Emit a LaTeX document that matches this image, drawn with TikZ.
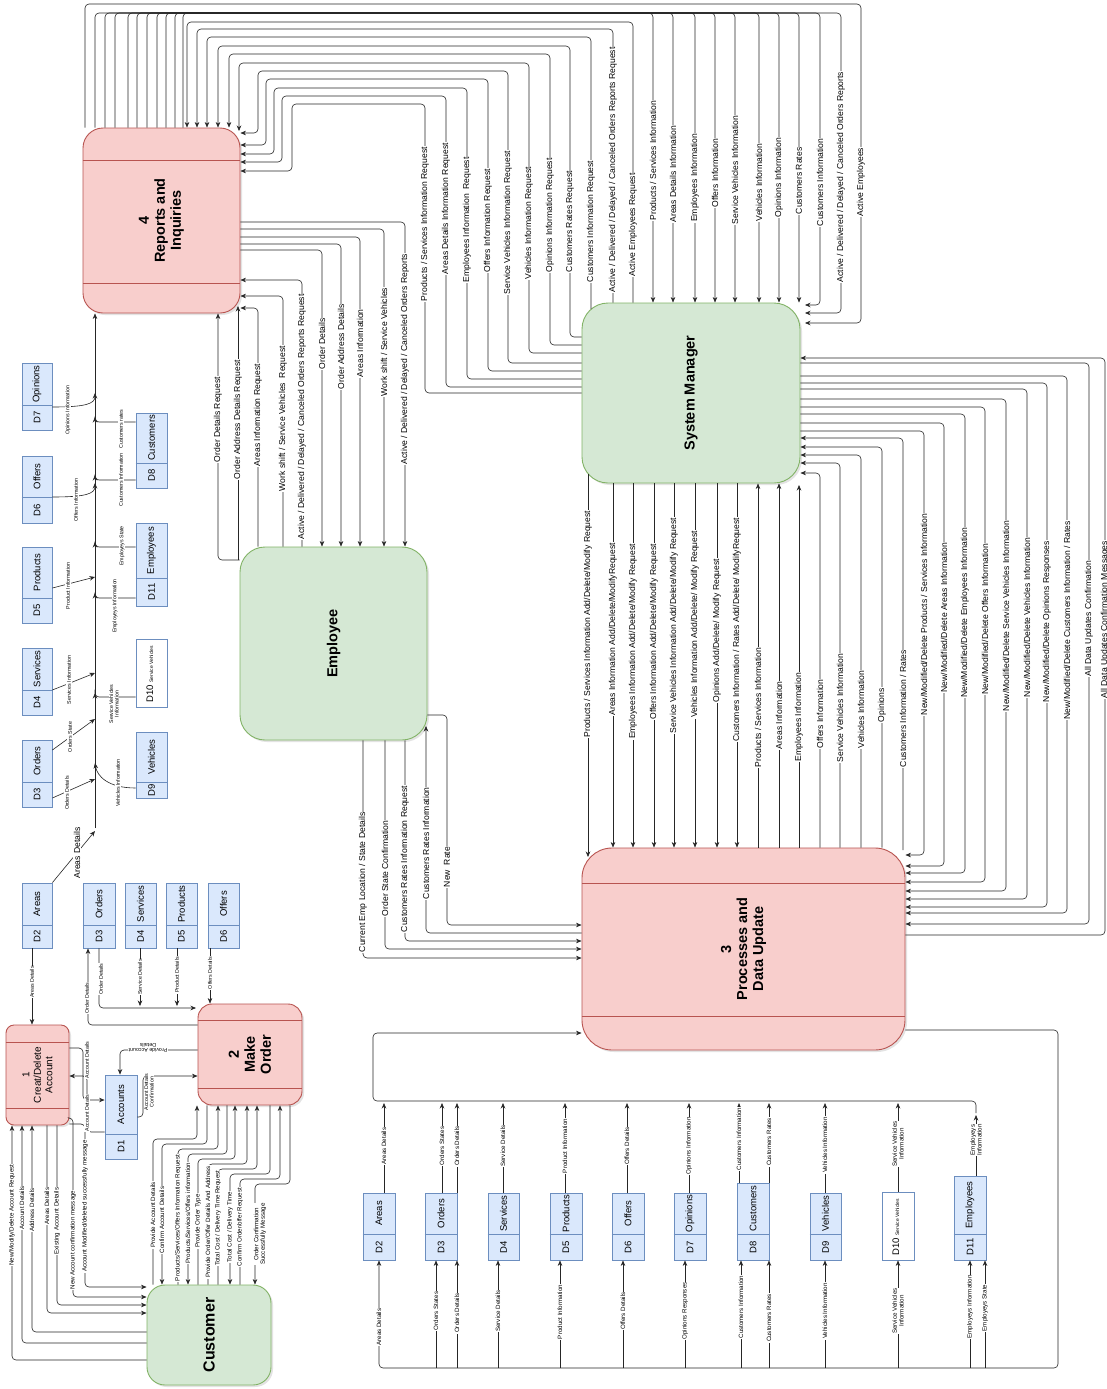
\documentclass[tikz,border=0pt]{standalone}
\usepackage{fontspec}
\setmainfont{Liberation Sans}
\usetikzlibrary{arrows.meta,fit,shadows}
\definecolor{pkF}{HTML}{F8CECC}\definecolor{pkD}{HTML}{B85450}
\definecolor{grF}{HTML}{D5E8D4}\definecolor{grD}{HTML}{82B366}
\definecolor{blF}{HTML}{DAE8FC}\definecolor{blD}{HTML}{6C8EBF}
\newcounter{lc}
\newcommand\lbl[3][]{\stepcounter{lc}\node[lab,#1] (lab\arabic{lc}) at (#2) {#3};}
\newcommand\pbox[6]{\node[#6,inner sep=0pt,fit={(#2,#3) (#4,#5)}] (#1) {};}
\newcommand\dstore[8]{\node[store,inner sep=0pt,fit={(#2,#3) (#4,#5)}] (#1) {};
  \draw[blD,line width=0.6pt] (#1.west |- 0,#6) -- (#1.east |- 0,#6);
  \node[stxt] (#1-i) at ({(#2+#4)/2},{(#6+#5)/2}) {#7};
  \node[stxt] (#1-n) at ({(#2+#4)/2},{(#3+#6)/2}) {#8};}
\begin{document}
\begin{tikzpicture}[x=1pt,y=-1pt,
  lab/.style={rotate=90,anchor=west,fill=white,inner sep=0.7pt,font=\fontsize{8.6}{9}\selectfont},
  slab/.style={anchor=center,font=\fontsize{6.2}{6.6}\selectfont},
  tlab/.style={anchor=center,font=\fontsize{5.3}{5.7}\selectfont},
  arr/.style={draw=black!85,line width=0.6pt,-{Stealth[length=5.5pt,width=4.5pt]},rounded corners=4pt},
  shd/.style={drop shadow={opacity=0.22,shadow xshift=2pt,shadow yshift=-2pt}},
  proc/.style={draw=pkD,fill=pkF,line width=0.9pt,shd},
  ent/.style={draw=grD,fill=grF,line width=0.9pt,shd},
  store/.style={draw=blD,fill=blF,line width=0.8pt},
  stxt/.style={rotate=90,font=\fontsize{9.5}{10}\selectfont,inner sep=0pt},
  ttl/.style={rotate=90,align=center,font=\bfseries\fontsize{14.5}{16}\selectfont},
  hdr/.style={draw=pkD,line width=0.8pt}]
\useasboundingbox (0,0) rectangle (1107,1389);
\fill[white] (0,0) rectangle (1107,1389);
% ---------------- boxes
\pbox{R}{83}{128}{240}{313}{proc,rounded corners=20pt}
\pbox{SM}{582}{303}{800}{483}{ent,rounded corners=26pt}
\pbox{EMP}{240}{547}{427}{740}{ent,rounded corners=25pt}
\pbox{P3}{582}{848}{905}{1050}{proc,rounded corners=30pt}
\pbox{P1}{6}{1025}{69}{1125}{proc,rounded corners=8pt}
\pbox{P2}{198}{1004}{302}{1105}{proc,rounded corners=14pt}
\pbox{CUS}{147}{1285}{271}{1385}{ent,rounded corners=18pt}
\draw[hdr] (R.west |- 0,160) -- (R.east |- 0,160);
\draw[hdr] (R.west |- 0,283) -- (R.east |- 0,283);
\draw[hdr] (P3.west |- 0,883) -- (P3.east |- 0,883);
\draw[hdr] (P3.west |- 0,1016) -- (P3.east |- 0,1016);
\draw[hdr] (P1.west |- 0,1042) -- (P1.east |- 0,1042);
\draw[hdr] (P1.west |- 0,1108) -- (P1.east |- 0,1108);
\draw[hdr] (P2.west |- 0,1020) -- (P2.east |- 0,1020);
\draw[hdr] (P2.west |- 0,1088) -- (P2.east |- 0,1088);
\node[ttl] (R-t) at (R) {4\\Reports and\\Inquiries};
\node[ttl] (SM-t) at (SM) {System Manager};
\node[ttl] (EMP-t) at (EMP) {Employee};
\node[ttl] (P3-t) at (P3) {3\\Processes and\\Data Update};
\node[ttl,font=\fontsize{10}{11.5}\selectfont] (P1-t) at (P1) {1\\Creat/Delete\\Account};
\node[ttl] (P2-t) at (P2) {2\\Make\\Order};
\node[ttl,font=\bfseries\fontsize{16}{18}\selectfont] (CUS-t) at (CUS) {Customer};
% ---------------- data stores
\dstore{A7}{22}{363}{52}{430}{405}{D7}{Opinions}
\dstore{A6}{22}{456}{52}{523}{497}{D6}{Offers}
\dstore{A5}{22}{547}{52}{623}{598}{D5}{Products}
\dstore{A4}{22}{648}{52}{715}{690}{D4}{Services}
\dstore{A3}{22}{740}{52}{807}{782}{D3}{Orders}
\dstore{A2}{22}{883}{52}{948}{925}{D2}{Areas}
\dstore{A8}{136}{413}{167}{488}{463}{D8}{Customers}
\dstore{A11}{136}{523}{167}{606}{578}{D11}{Employees}
\node[store,fill=white,inner sep=0pt,fit={(136,639) (167,707)}] (A10) {};
\node[stxt,anchor=base west] (A10-t) at (153,703) {D10 {\fontsize{5}{5}\selectfont Service Vehicles}};
\dstore{A9}{136}{732}{167}{798}{782}{D9}{Vehicles}
\dstore{B3}{83}{883}{115}{948}{925}{D3}{Orders}
\dstore{B4}{125}{883}{156}{948}{925}{D4}{Services}
\dstore{B5}{166}{883}{197}{948}{925}{D5}{Products}
\dstore{B6}{208}{883}{239}{948}{925}{D6}{Offers}
\dstore{D1}{105}{1075}{137}{1159}{1134}{D1}{Accounts}
\dstore{C2}{363}{1193}{395}{1260}{1234}{D2}{Areas}
\dstore{C3}{425}{1193}{457}{1260}{1234}{D3}{Orders}
\dstore{C4}{488}{1193}{519}{1260}{1234}{D4}{Services}
\dstore{C5}{550}{1193}{582}{1260}{1234}{D5}{Products}
\dstore{C6}{612}{1193}{644}{1260}{1234}{D6}{Offers}
\dstore{C7}{674}{1193}{706}{1260}{1234}{D7}{Opinions}
\dstore{C8}{737}{1183}{769}{1260}{1234}{D8}{Customers}
\dstore{C9}{810}{1193}{841}{1260}{1234}{D9}{Vehicles}
\node[store,fill=white,inner sep=0pt,fit={(882,1192) (914,1260)}] (C10) {};
\node[stxt,anchor=base west] (C10-t) at (899,1256) {D10 {\fontsize{5}{5}\selectfont Service Vehicles}};
\dstore{C11}{954}{1176}{986}{1260}{1234}{D11}{Employees}
% ---------------- Reports -> System Manager
\draw[arr] (85,0 |- R.north) |- (861,4) |- (805,323);
\draw[arr] (95,0 |- R.north) |- (841,13) |- (805,313);
\draw[arr] (105,0 |- R.north) |- (820,13) |- (805,305);
\foreach \a/\b in {115/799,128/779,137/759,147/735,157/715,166/695,175/673,183/653}
  \draw[arr] (\a,0 |- R.north) |- (\b,13) -- (\b,0 |- SM.north);
% ---------------- System Manager -> Reports
\draw[arr] (633,0 |- SM.north) |- (187,22) -- (187,0 |- R.north);
\draw[arr] (613,0 |- SM.north) |- (197,29) -- (197,0 |- R.north);
\draw[arr] (591,309) |- (207,37) -- (207,0 |- R.north);
\draw[arr] (SM.west |- 0,337) -| (570,46) -| (218,0 |- R.north);
\draw[arr] (SM.west |- 0,345) -| (550,54) -| (229,0 |- R.north);
\draw[arr] (SM.west |- 0,353) -| (529,63) -| (239,131);
\draw[arr] (SM.west |- 0,363) -| (508,71) -| (258,133) -- (R.east |- 0,133);
\draw[arr] (SM.west |- 0,371) -| (488,79) -| (266,145) -- (R.east |- 0,145);
\draw[arr] (SM.west |- 0,379) -| (467,88) -| (274,154) -- (R.east |- 0,154);
\draw[arr] (SM.west |- 0,387) -| (446,96) -| (282,162) -- (R.east |- 0,162);
\draw[arr] (SM.west |- 0,393) -| (425,104) -| (292,171) -- (R.east |- 0,171);
% ---------------- Employee <-> Reports
\draw[arr] (EMP.west |- 0,560) -| (218,0 |- R.south);
\draw[arr] (238,560) -- (238,306);
\draw[arr] (258,0 |- EMP.north) |- (R.east |- 0,308);
\draw[arr] (283,0 |- EMP.north) |- (R.east |- 0,296);
\draw[arr] (302,0 |- EMP.north) |- (R.east |- 0,280);
\draw[arr] (R.east |- 0,250) -| (322,0 |- EMP.north);
\draw[arr] (R.east |- 0,244) -| (341,0 |- EMP.north);
\draw[arr] (R.east |- 0,237) -| (360,0 |- EMP.north);
\draw[arr] (R.east |- 0,229) -| (384,0 |- EMP.north);
\draw[arr] (R.east |- 0,222) -| (405,0 |- EMP.north);
% ---------------- System Manager <-> Processes
\draw[arr] (588,474) -- (588,857);
\foreach \a in {613,633,654,674,695,717,737} \draw[arr] (\a,0 |- SM.south) -- (\a,0 |- P3.north);
\foreach \a in {758,779} \draw[arr] (\a,0 |- P3.north) -- (\a,0 |- SM.south);
\draw[arr] (799,0 |- P3.north) -- (799,485);
\draw[arr] (820,0 |- P3.north) |- (SM.east |- 0,473);
\draw[arr] (840,0 |- P3.north) |- (SM.east |- 0,463);
\draw[arr] (861,0 |- P3.north) |- (SM.east |- 0,455);
\draw[arr] (882,0 |- P3.north) |- (SM.east |- 0,447);
\draw[arr] (903,850) |- (SM.east |- 0,438);
\foreach \a/\u/\v in {924/431/855,944/423/866,965/414/873,985/407/882,1006/399/891,1027/389/899,1047/383/907,1067/376/913,1089/363/924}
  \draw[arr] (SM.east |- 0,\u) -| (\a,\v) -- (P3.east |- 0,\v);
\draw[arr] (P3.east |- 0,935) -| (1105,358) -- (SM.east |- 0,358);
% ---------------- Employee <-> Processes
\draw[arr] (363,0 |- EMP.south) |- (P3.west |- 0,958);
\draw[arr] (385,0 |- EMP.south) |- (P3.west |- 0,949);
\draw[arr] (405,0 |- EMP.south) |- (P3.west |- 0,941);
\draw[arr] (P3.west |- 0,933) -| (426,726);
\draw[arr] (EMP.east |- 0,715) -| (447,925) -- (P3.west |- 0,925);
% ---------------- Processes <-> bottom stores
\draw[arr] (976,1113) -- (976,1101) -- (373,1101) -- (373,1033) -- (P3.west |- 0,1033);
\foreach \a/\s in {384/C2,442/C3,457/C3,503/C4,565/C5,627/C6,689/C7,739/C8,769/C8,825/C9,898/C10}
  \draw[arr] (\a,0 |- \s.north) -- (\a,1103);
\draw[arr] (976,0 |- C11.north) -- (976,1115);
\draw[arr] (P3.east |- 0,1030) -| (1058,1368) -| (379,0 |- C2.south);
\foreach \a/\s in {436/C3,457/C3,498/C4,560/C5,623/C6,685/C7,741/C8,769/C8,825/C9,898/C10,970/C11,985/C11}
  \draw[arr] (\a,1368) -- (\a,0 |- \s.south);
% ---------------- top-left stores -> Reports
\draw[arr] (95,828) -- (95,0 |- R.south);
\draw[arr] (A2.north east) -- (95,831);
\draw[arr] (A3.east |- 0,798) -- (95,779);
\draw[arr] (A3.east |- 0,750) -- (95,719);
\draw[arr] (A9.west |- 0,788) .. controls (108,788) and (97,776) .. (95,763);
\draw[arr] (A4.east |- 0,690) -- (95,673);
\draw[arr] (A10.west |- 0,697) -| (95,693);
\draw[arr] (A5.east |- 0,588) -- (95,577);
\draw[arr] (A11.west |- 0,598) -| (95,593);
\draw[arr] (A11.west |- 0,547) -| (95,542);
\draw[arr] (A6.east |- 0,497) .. controls (85,497) and (95,494) .. (95,483);
\draw[arr] (A8.west |- 0,480) -| (95,475);
\draw[arr] (A8.west |- 0,422) -| (95,417);
\draw[arr] (A7.east |- 0,407) .. controls (85,407) and (95,404) .. (95,393);
% ---------------- Make Order / Account area
\draw[arr] (32,0 |- A2.south) -- (32,0 |- P1.north);
\draw[arr] (P2.west |- 0,1025) -| (88,0 |- B3.south);
\draw[arr] (99,0 |- B3.south) |- (196,1008);
\draw[arr] (140,0 |- B4.south) -- (140,1006);
\draw[arr] (177,0 |- B5.south) -- (177,1006);
\draw[arr] (210,0 |- B6.south) -- (210,0 |- P2.north);
\draw[arr] (P1.east |- 0,1048) -| (83,1100) -- (D1.west |- 0,1100);
\draw[arr] (D1.west |- 0,1132) -| (87,1076) -- (P1.east |- 0,1076);
\draw[arr] (P2.west |- 0,1050) -| (120,0 |- D1.north);
\draw[arr] (D1.east |- 0,1117) -| (143,1076) -- (P2.west |- 0,1076);
% Customer <-> Create account
\draw[arr] (CUS.west |- 0,1360) -| (12,0 |- P1.south);
\draw[arr] (CUS.west |- 0,1343) -| (22,0 |- P1.south);
\draw[arr] (CUS.west |- 0,1332) -| (32,0 |- P1.south);
\draw[arr] (47,0 |- P1.south) |- (CUS.west |- 0,1313);
\draw[arr] (57,0 |- P1.south) |- (CUS.west |- 0,1305);
\draw[arr] (P1.east |- 0,1118) -| (73,1140) |- (CUS.west |- 0,1297);
\draw[arr] (P1.east |- 0,1124) -| (85,1150) |- (CUS.west |- 0,1287);
% Customer <-> Make order
\foreach \c/\b/\y in {153/197/1139,178/218/1149,198/235/1159,208/247/1164,218/257/1169,240/280/1179}
  \draw[arr] (\c,0 |- CUS.north) |- (\b,\y) -- (\b,0 |- P2.south);
\foreach \c/\b/\y in {162/207/1144,188/227/1154,230/270/1174,255/290/1184}
  \draw[arr] (\b,0 |- P2.south) -- (\b,\y) -| (\c,0 |- CUS.north);
% ---------------- labels
\lbl[anchor=east]{653,100}{Products / Services Information}
\lbl[anchor=east]{673,125}{Areas Details Information}
\lbl[anchor=east]{695,133}{Employees Information}
\lbl[anchor=east]{715,138}{Offers Information}
\lbl[anchor=east]{735,115}{Service Vehicles Information}
\lbl{759,222}{Vehicles Information}
\lbl{779,218}{Opinions Information}
\lbl{799,215}{Customers Rates}
\lbl{820,227}{Customers Information}
\lbl{841,283}{Active / Delivered / Delayed / Canceled Orders Reports}
\lbl{861,217}{Active Employees}
\lbl{425,302}{Products / Services Information Request}
\lbl{446,275}{Areas Details Information Request}
\lbl{467,283}{Employees Information\ \ Request}
\lbl{488,273}{Offers Information Request}
\lbl{508,295}{Service Vehicles Information Request}
\lbl{529,280}{Vehicles Information Request}
\lbl{550,273}{Opinions Information Request}
\lbl{570,273}{Customers Rates Request}
\lbl{591,283}{Customers Information Request}
\lbl{613,293}{Active / Delivered / Delayed / Canceled Orders Reports Request}
\lbl{633,277}{Active Employees Request}
\lbl{218,463}{Order Details Request}
\lbl{238,480}{Order Address Details Request}
\lbl{258,467}{Areas Information Request}
\lbl{283,492}{Work shift / Service Vehicles\ \ Request}
\lbl{302,540}{Active / Delivered / Delayed / Canceled Orders Reports Request}
\lbl{322,370}{Order Details}
\lbl{341,390}{Order Address Details}
\lbl{360,378}{Areas Information}
\lbl{384,397}{Work shift / Service Vehicles}
\lbl{405,465}{Active / Delivered / Delayed / Canceled Orders Reports}
\lbl[anchor=east]{588,510}{Products / Services Information Add/Delete/Modify Request}
\lbl[anchor=east]{613,542}{Areas Information Add/Delete/ModifyRequest}
\lbl[anchor=east]{633,543}{Employees Information Add/Delete/Modify Request}
\lbl[anchor=east]{654,543}{Offers Information Add/Delete/Modify Request}
\lbl[anchor=east]{674,517}{Service Vehicles Information Add/Delete/Modify Request}
\lbl[anchor=east]{695,530}{Vehicles Information Add/Delete/ Modify Request}
\lbl[anchor=east]{717,558}{Opinions Add/Delete/ Modify Request}
\lbl[anchor=east]{737,517}{Customers Information / Rates Add/Delete/ ModifyRequest}
\lbl{758,768}{Products / Services Information}
\lbl{779,750}{Areas Information}
\lbl{799,762}{Employees Information}
\lbl{820,749}{Offers Information}
\lbl{840,763}{Service Vehicles Information}
\lbl{861,749}{Vehicles Information}
\lbl{882,723}{Opinions}
\lbl{903,768}{Customers Information / Rates}
\lbl[anchor=east]{924,513}{New/Modified/Delete Products / Services Information}
\lbl[anchor=east]{944,542}{New/Modified/Delete Areas Information}
\lbl[anchor=east]{965,527}{New/Modified/Delete Employees Information}
\lbl[anchor=east]{985,543}{New/Modified/Delete Offers Information}
\lbl[anchor=east]{1006,520}{New/Modified/Delete Service Vehicles Information}
\lbl[anchor=east]{1027,537}{New/Modified/Delete Vehicles Information}
\lbl[anchor=east]{1047,540}{New/Modified/Delete Opinions Responses}
\lbl[anchor=east]{1067,520}{New/Modified/Delete Customers Information / Rates}
\lbl[anchor=east]{1089,560}{All Data Updates Confirmation}
\lbl[anchor=east]{1105,540}{All Data Updates Confirmation Messages}
\lbl{363,953}{Current Emp Location / State Details}
\lbl{385,917}{Order State Confirmation}
\lbl{405,933}{Customers Rates Information Request}
\lbl{426,900}{Customers Rates Information}
\lbl{447,888}{New\ \ Rate}
% bottom stores labels
\lbl[slab]{384,1146}{Areas Details}
\lbl[slab]{442,1146}{Orders States}
\lbl[slab]{457,1146}{Orders Details}
\lbl[slab]{503,1146}{Service Details}
\lbl[slab]{565,1146}{Product Information}
\lbl[slab]{627,1146}{Offers Details}
\lbl[slab]{689,1146}{Opinions Information}
\lbl[slab]{739,1139}{Customers Information}
\lbl[slab]{769,1142}{Customers Rates}
\lbl[slab]{825,1145}{Vehicles Information}
\lbl[slab,align=center]{898,1144}{Service Vehicles\\Information}
\lbl[slab,align=center]{976,1140}{Employeys\\Information}
\lbl[slab]{379,1327}{Areas Details}
\lbl[slab]{436,1311}{Orders States}
\lbl[slab]{457,1313}{Orders Details}
\lbl[slab]{498,1311}{Service Details}
\lbl[slab]{560,1312}{Product Information}
\lbl[slab]{623,1311}{Offers Details}
\lbl[slab]{685,1311}{Opinions Responses}
\lbl[slab]{741,1307}{Customers Information}
\lbl[slab]{769,1318}{Customers Rates}
\lbl[slab]{825,1311}{Vehicles Information}
\lbl[slab,align=center]{898,1311}{Service Vehicles\\Information}
\lbl[slab]{970,1307}{Employeys Information}
\lbl[slab]{985,1308}{Employeys State}
% top-left labels
\lbl[anchor=center]{77,853}{Areas Details}
\lbl[tlab]{67,793}{Orders Details}
\lbl[tlab]{70,737}{Orders State}
\lbl[tlab]{118,783}{Vehicles Information}
\lbl[tlab]{69,680}{Services Information}
\lbl[tlab,align=center]{114,704}{Service Vehicles\\Information}
\lbl[tlab]{68,586}{Product Information}
\lbl[tlab]{115,606}{Employeys Information}
\lbl[tlab]{122,546}{Employeys State}
\lbl[tlab]{76,500}{Offers Information}
\lbl[tlab]{121,480}{Customers Information}
\lbl[tlab]{121,429}{Customers rates}
\lbl[tlab]{68,410}{Opinions Information}
% account area labels
\lbl[tlab]{32,982}{Areas Details}
\lbl[tlab]{87,998}{Order Details}
\lbl[tlab]{101,979}{Order Details}
\lbl[tlab]{140,977}{Service Details}
\lbl[tlab]{177,975}{Product Details}
\lbl[tlab]{210,973}{Offers Details}
\lbl[tlab]{87,1060}{Account Details}
\lbl[tlab]{87,1113}{Account Details}
\lbl[tlab,rotate=90,align=center]{148,1048}{Provide Account\\Details}
\lbl[tlab,align=center]{149,1092}{Account Details\\Confirmation}
\lbl[slab]{12,1215}{New/Modify/Delete Account Request}
\lbl[slab]{22,1208}{Account Details}
\lbl[slab]{32,1210}{Address Details}
\lbl[slab]{47,1206}{Areas Details}
\lbl[slab]{57,1221}{Existing Account Details}
\lbl[slab]{73,1240}{New Account confirmation message}
\lbl[slab]{85,1206}{Account Modified/deleted successfully message}
\lbl[slab]{153,1215}{Provide Account Details}
\lbl[slab]{162,1220}{Confirm Account Details}
\lbl[slab]{178,1218}{Products/Services/Offers Information Request}
\lbl[slab]{188,1213}{Products/Services/Offers information}
\lbl[slab]{198,1221}{Provide Order Type}
\lbl[slab]{208,1222}{Provide Order/Offer Details And Address}
\lbl[slab]{218,1218}{Total Cost / Delivery Time Request}
\lbl[slab]{230,1227}{Total Cost / Delivery Time}
\lbl[slab]{240,1227}{Confirm Order/offer Request}
\lbl[slab,align=center]{260,1234}{Order Confirmation\\Successfully Message}
\end{tikzpicture}
\end{document}
